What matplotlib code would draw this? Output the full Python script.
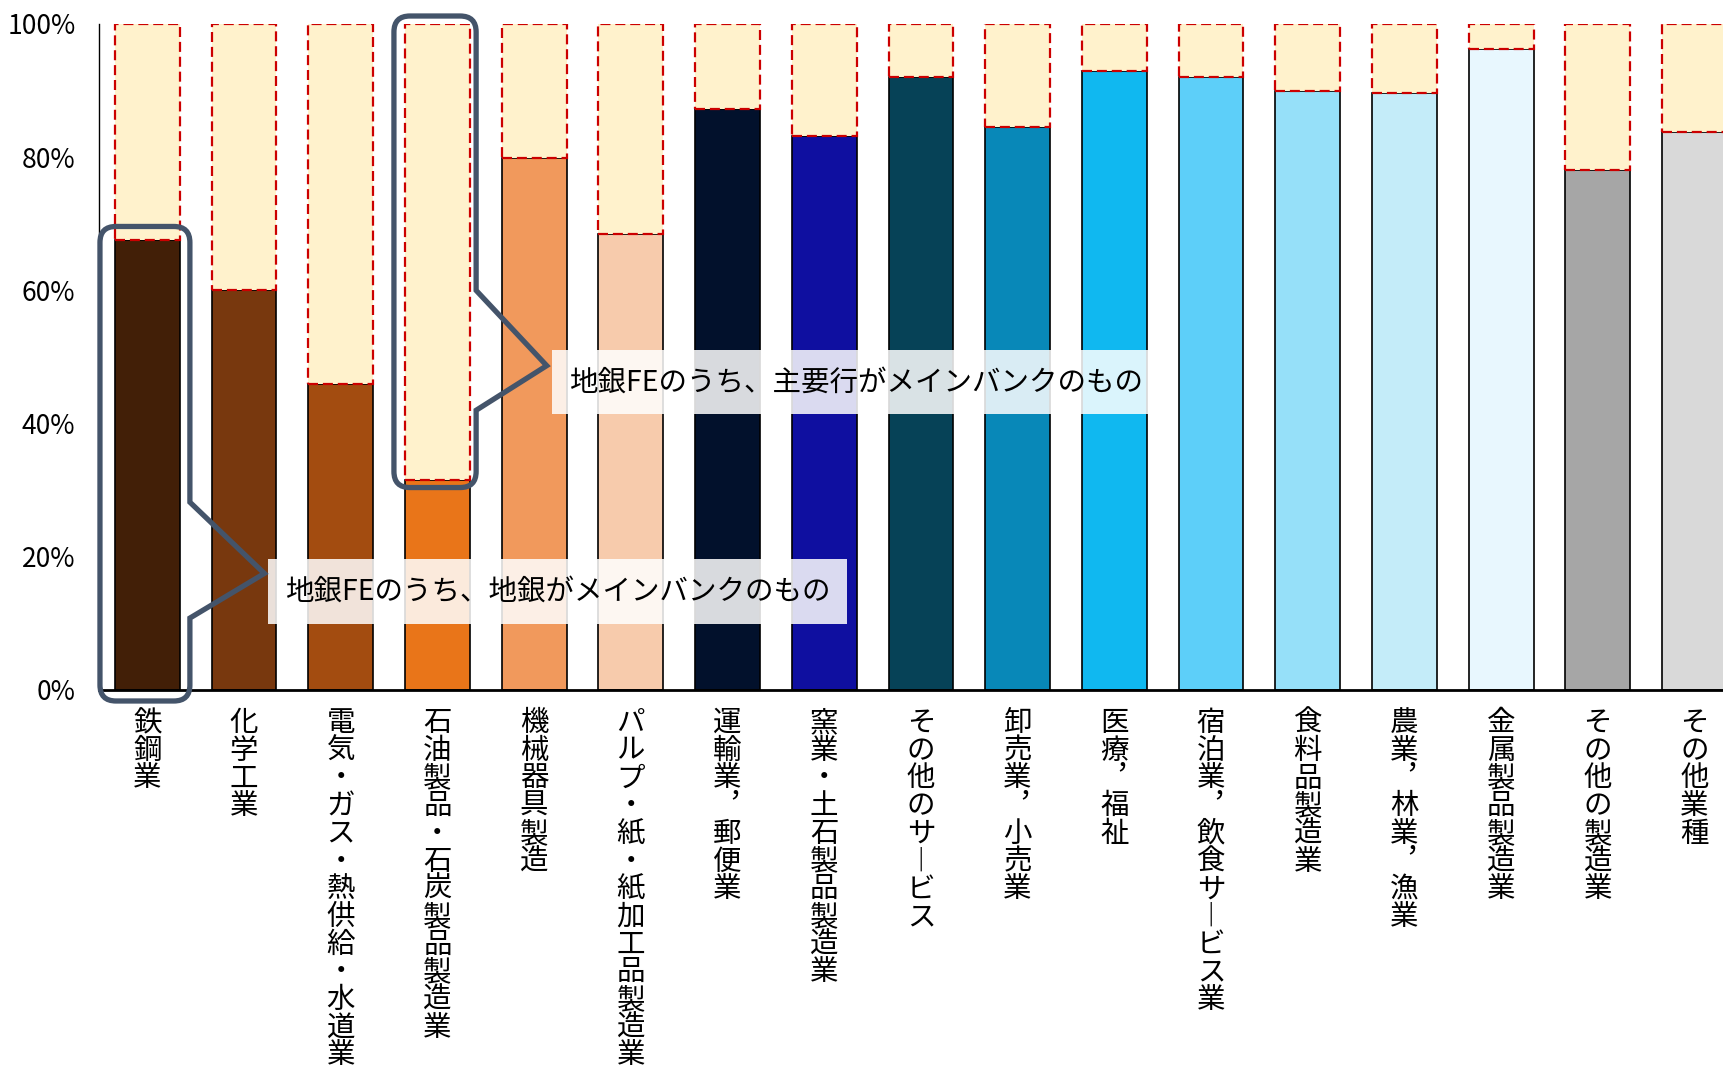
import matplotlib
matplotlib.use("Agg")
import matplotlib.pyplot as plt
from matplotlib.path import Path
from matplotlib.patches import PathPatch
from matplotlib.transforms import IdentityTransform

plt.rcParams['font.family'] = ['Noto Sans CJK JP', 'DejaVu Sans']

# ---- data ----
categories = ["鉄鋼業", "化学工業", "電気・ガス・熱供給・水道業", "石油製品・石炭製品製造業",
              "機械器具製造", "パルプ・紙・紙加工品製造業", "運輸業，郵便業", "窯業・土石製品製造業",
              "その他のサービス", "卸売業，小売業", "医療，福祉", "宿泊業，飲食サービス業",
              "食料品製造業", "農業，林業，漁業", "金属製品製造業", "その他の製造業", "その他業種"]
regional_main = [67.5, 60.0, 45.9, 31.6, 79.9, 68.4, 87.3, 83.2, 92.1, 84.6, 92.9, 92.0,
                 90.0, 89.6, 96.2, 78.1, 83.8]
major_main = [100 - v for v in regional_main]
bar_colors = ["#421F07", "#78380E", "#A34C10", "#E97519", "#F1995C", "#F7CBAC",
              "#02112C", "#0F0FA0", "#064257", "#0888B8", "#10B8F0", "#5DCFF9",
              "#96E0F9", "#C4ECF9", "#E8F7FE", "#A6A6A6", "#D9D9D9"]
yticks = [0, 20, 40, 60, 80, 100]
ytick_labels = ["0%", "20%", "40%", "60%", "80%", "100%"]
label_regional = "地銀FEのうち、地銀がメインバンクのもの"
label_major = "地銀FEのうち、主要行がメインバンクのもの"

W, H, DPI = 17.24, 10.81, 100
fig = plt.figure(figsize=(W, H), dpi=DPI)
# axes: left at x=99px, 0% at y=690px, 100% at y=24px; right end beyond figure edge
ax_left = 99 / 1724
ax_bottom = 1 - 690 / 1081
ax_height = (690 - 24) / 1081
pitch = 96.7
ax_width = (17.0 * pitch) / 1724
ax = fig.add_axes([ax_left, ax_bottom, ax_width, ax_height])

x = list(range(len(categories)))
bw = 0.67
ax.bar(x, regional_main, width=bw, color=bar_colors, edgecolor="black", linewidth=1.2, zorder=2)
ax.bar(x, major_main, bottom=regional_main, width=bw, color="#FFF2CC",
       edgecolor="#CC0000", linewidth=1.6, linestyle=(0, (4.5, 2.2)), zorder=3)

ax.set_xlim(-0.5, 16.5)
ax.set_ylim(0, 100)
ax.set_yticks(yticks)
ax.set_yticklabels(ytick_labels, fontsize=19)
ax.tick_params(axis="y", length=0, pad=17)


def vert(s):
    s = s.replace("，", "︐").replace("ー", "︱")
    return "\n".join(list(s))


ax.set_xticks(x)
ax.set_xticklabels([vert(c) for c in categories], fontsize=20.5, linespacing=0.9,
                   va="top")
ax.tick_params(axis="x", length=0, pad=13)

for s in ["top", "right"]:
    ax.spines[s].set_visible(False)
ax.spines["left"].set_linewidth(1.0)
ax.spines["bottom"].set_linewidth(2.0)
ax.spines["bottom"].set_zorder(4)

fig.canvas.draw()
T = ax.transData


def callout(x0, x1, y0, y1, py_top, tip, py_bot, r=16):
    (X0, Y0) = T.transform((x0, y0))
    (X1, Y1) = T.transform((x1, y1))
    _, PT = T.transform((x1, py_top))
    TX, TY = T.transform(tip)
    _, PB = T.transform((x1, py_bot))
    verts = [(X0 + r, Y1), (X1 - r, Y1), (X1, Y1), (X1, Y1 - r),
             (X1, PT), (TX, TY), (X1, PB), (X1, Y0 + r),
             (X1, Y0), (X1 - r, Y0), (X0 + r, Y0), (X0, Y0), (X0, Y0 + r),
             (X0, Y1 - r), (X0, Y1), (X0 + r, Y1), (X0 + r, Y1)]
    codes = [Path.MOVETO, Path.LINETO, Path.CURVE3, Path.CURVE3,
             Path.LINETO, Path.LINETO, Path.LINETO, Path.LINETO,
             Path.CURVE3, Path.CURVE3, Path.LINETO, Path.CURVE3, Path.CURVE3,
             Path.LINETO, Path.CURVE3, Path.CURVE3, Path.CLOSEPOLY]
    p = PathPatch(Path(verts, codes), facecolor="none", edgecolor="#44546A",
                  linewidth=3.8, joinstyle="miter", transform=IdentityTransform(),
                  zorder=6, clip_on=False)
    fig.add_artist(p)


# callout around regional bank share of 鉄鋼業
i = 0
callout(i - 0.49, i + 0.44, -1.65, regional_main[i] + 2.1, 28.2, (i + 1.21, 17.5), 10.8)
ax.text(i + 1.42, 14.8, label_regional, fontsize=20.5, ha="left", va="center", zorder=7,
        bbox=dict(boxstyle="square,pad=0.6", facecolor="white", edgecolor="none", alpha=0.85))

# callout around major bank share of 石油製品・石炭製品製造業
j = 3
callout(j - 0.45, j + 0.40, regional_main[j] - 1.2, 101.2, 60.0, (j + 1.13, 48.7), 42.0)
ax.text(j + 1.36, 46.2, label_major, fontsize=20.5, ha="left", va="center", zorder=7,
        bbox=dict(boxstyle="square,pad=0.6", facecolor="white", edgecolor="none", alpha=0.85))

fig.savefig("out.png", dpi=DPI)
